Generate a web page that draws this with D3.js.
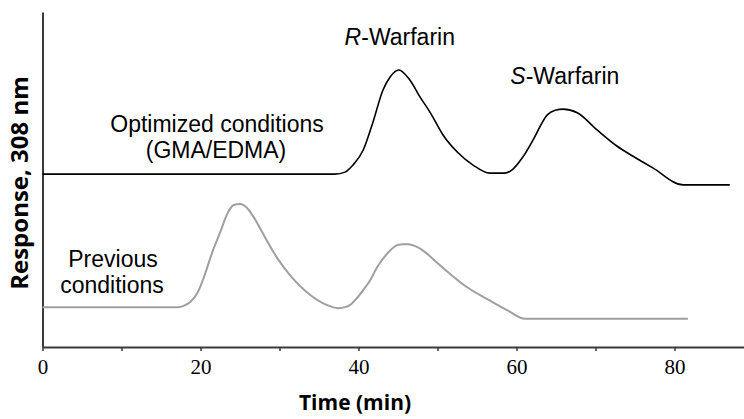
<!DOCTYPE html>
<html>
<head>
<meta charset="utf-8">
<script src="https://cdn.jsdelivr.net/npm/d3@7"></script>
<style>
    body { margin: 0; background: #fff; }
    svg { display: block; }
</style>
</head>
<body>
<svg id="vis_svg"></svg>
<script>
// Chart data (time in min, response in arbitrary units)
const optimizedTime = [0, 37.0, 38.3, 39.3, 40.6, 41.8, 43.1, 44.0, 45.1, 46.5, 47.8, 49.1, 50.7, 52.5, 54.5, 56.6,
    58.5, 59.4, 60.8, 62.1, 63.9, 64.9, 65.9, 67.7, 70.2, 72.7, 74.7, 77.3, 81.1, 87.0];
const optimizedResponse = [51.6, 51.6, 52.2, 54.3, 58.8, 66.9, 76.7, 80.6, 82.7, 79.7, 74.6, 69.9, 63.3, 58.2, 54.3, 51.9,
    51.9, 52.8, 56.7, 61.8, 69.3, 70.7, 71.0, 69.9, 64.8, 60.0, 57.0, 53.4, 48.4, 48.4];

const previousTime = [0, 17.2, 17.8, 18.7, 19.6, 20.3, 21.6, 22.5, 23.5, 24.2, 25.0, 25.9, 26.8, 27.8, 29.7, 31.3,
    33.9, 36.0, 37.4, 38.3, 38.9, 39.8, 40.6, 41.5, 42.3, 43.6, 44.9, 45.6, 46.3, 47.2, 48.4, 49.7,
    51.6, 53.7, 56.3, 58.8, 61.1, 81.7];
const previousResponse = [11.9, 11.9, 12.2, 13.4, 16.1, 20.0, 29.0, 34.3, 40.3, 42.4, 42.7, 41.5, 38.5, 34.3, 26.6, 21.5,
    15.5, 12.5, 11.6, 11.9, 12.5, 14.6, 17.0, 20.0, 23.6, 27.8, 30.4, 30.7, 30.7, 30.1, 28.4, 25.7,
    21.8, 17.9, 14.3, 11.0, 8.4, 8.4];

const xTickValues = [0, 10, 20, 30, 40, 50, 60, 70, 80];
const xTickLabels = ['0', '', '20', '', '40', '', '60', '', '80'];

const peakLabels = [
    { italic: 'R', rest: '-Warfarin', time: 45.1, response: 82.7 },
    { italic: 'S', rest: '-Warfarin', time: 66.0, response: 71.0 }
];

let config = {
    'svg': { 'margin': {} },
    'plot': {}
};
let scales = {};
let svg;

/**
 * Set up the svg and scales
 */
function visSetup() {
    config.svg.width = 744;
    config.svg.height = 419;

    config.plot.left = 42.5;
    config.plot.right = 744;
    config.plot.top = 12;
    config.plot.bottom = 347;

    svg = d3.select('#vis_svg')
        .attr('width', config.svg.width)
        .attr('height', config.svg.height);

    // 7.9 px per minute, 0 at the y axis
    scales.x = d3.scaleLinear()
        .domain([0, (config.plot.right - config.plot.left) / 7.9])
        .range([config.plot.left, config.plot.right]);

    scales.y = d3.scaleLinear()
        .domain([0, 100])
        .range([config.plot.bottom, config.plot.top]);
}

/**
 * Draw axes, traces and labels
 */
function visDraw() {
    const axisColor = '#3a3a3a';

    // x axis
    let xAxis = d3.axisBottom(scales.x)
        .tickValues(xTickValues)
        .tickFormat((d, i) => xTickLabels[i])
        .tickSizeInner(4)
        .tickSizeOuter(0)
        .tickPadding(8);

    let xAxisG = svg.append('g')
        .attr('transform', translate(0, config.plot.bottom))
        .call(xAxis);
    xAxisG.select('.domain').attr('stroke', axisColor).attr('stroke-width', 2);
    xAxisG.selectAll('.tick line').attr('stroke', axisColor).attr('stroke-width', 1.5);
    xAxisG.selectAll('.tick text')
        .attr('fill', '#000')
        .style('font-family', '"Liberation Serif", "Times New Roman", serif')
        .style('font-size', '21px');

    // y axis (no ticks)
    let yAxisG = svg.append('g')
        .attr('transform', translate(config.plot.left, 0))
        .call(d3.axisLeft(scales.y).tickValues([]).tickSizeOuter(0));
    yAxisG.select('.domain').attr('stroke', axisColor).attr('stroke-width', 2);

    // traces
    let line = d3.line()
        .x(d => scales.x(d[0]))
        .y(d => scales.y(d[1]))
        .curve(d3.curveMonotoneX);

    svg.append('path')
        .datum(d3.zip(previousTime, previousResponse))
        .attr('d', line)
        .attr('fill', 'none')
        .attr('stroke', '#9f9f9f')
        .attr('stroke-width', 2);

    svg.append('path')
        .datum(d3.zip(optimizedTime, optimizedResponse))
        .attr('d', line)
        .attr('fill', 'none')
        .attr('stroke', '#000')
        .attr('stroke-width', 1.6);

    // annotation text
    const sans = '"Liberation Sans", Arial, sans-serif';

    let peaks = svg.append('g')
        .style('font-family', sans)
        .style('font-size', '23px');
    peakLabels.forEach(p => {
        let t = peaks.append('text')
            .attr('x', scales.x(p.time) + 1)
            .attr('y', scales.y(p.response) - 25)
            .attr('text-anchor', 'middle');
        t.append('tspan').style('font-style', 'italic').text(p.italic);
        t.append('tspan').text(p.rest);
    });

    let notes = svg.append('g')
        .style('font-family', sans)
        .style('font-size', '23px')
        .attr('text-anchor', 'middle');

    notes.append('text').attr('x', 217).attr('y', 132).text('Optimized conditions');
    notes.append('text').attr('x', 216).attr('y', 158).text('(GMA/EDMA)');
    notes.append('text').attr('x', 113).attr('y', 267).text('Previous');
    notes.append('text').attr('x', 112).attr('y', 293).text('conditions');

    // axis titles
    svg.append('text')
        .attr('x', 355)
        .attr('y', 410)
        .attr('text-anchor', 'middle')
        .style('font-family', '"Open Sans", sans-serif')
        .style('font-weight', 'bold')
        .style('font-size', '21px')
        .text('Time (min)');

    svg.append('text')
        .attr('transform', translate(28, 183) + ' rotate(-90)')
        .attr('text-anchor', 'middle')
        .style('font-family', '"Open Sans", sans-serif')
        .style('font-weight', 'bold')
        .style('font-size', '24px')
        .text('Response, 308 nm');
}

// Helper functions
function translate(x, y) {
    return 'translate(' + x + ',' + y + ')';
}

visSetup();
visDraw();
</script>
</body>
</html>
